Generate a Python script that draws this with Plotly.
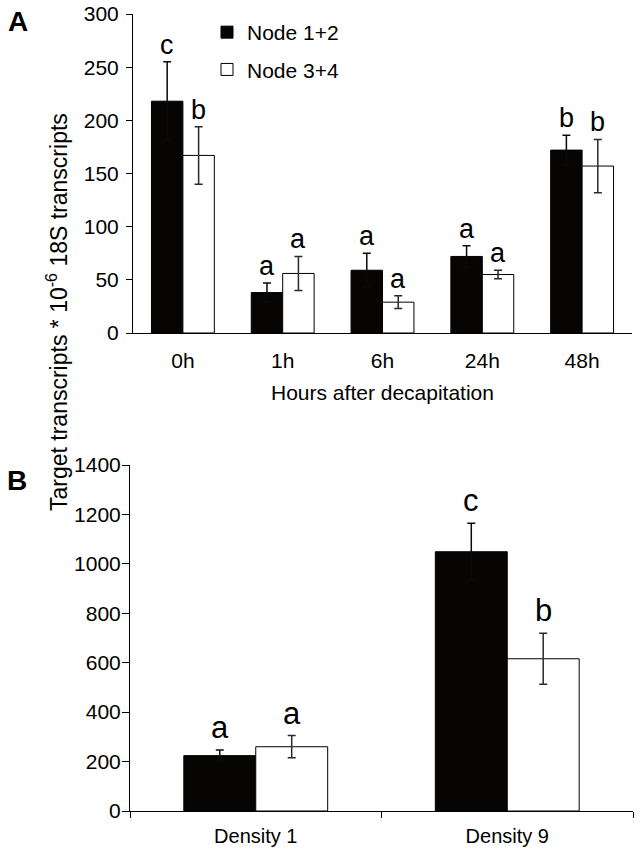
import plotly.graph_objects as go

# ---------------- data ----------------
hours = ["0h", "1h", "6h", "24h", "48h"]
a_node12 = [218, 38, 59, 72, 172]
a_node12_err = [37, 9, 16, 10, 14]
a_node34 = [167, 56, 29, 55, 157]
a_node34_err = [27, 16, 6, 4, 25]
a_letters12 = ["c", "a", "a", "a", "b"]
a_letters34 = ["b", "a", "a", "a", "b"]

density = ["Density 1", "Density 9"]
b_node12 = [224, 1049]
b_node12_err = [23, 115]
b_node34 = [260, 616]
b_node34_err = [45, 103]
b_letters12 = ["a", "c"]
b_letters34 = ["a", "b"]

series_names = ["Node 1+2", "Node 3+4"]
y_ticks_a = [0, 50, 100, 150, 200, 250, 300]
y_ticks_b = [0, 200, 400, 600, 800, 1000, 1200, 1400]

# ---------------- style ----------------
W, H = 641, 851
FONT = "Liberation Sans, Arial, Helvetica, sans-serif"
BLACK = "#070404"
ERR_DARK = "#0a0a0a"
ERR = "#2a2a2a"
bw_a = 0.315   # bar width (category units) panel A
bw_b = 0.286   # bar width panel B

def px_x(p):
    return p / W

def px_y(p):
    return 1 - p / H

fig = go.Figure()

def add_pair(xcats, v12, e12, v34, e34, bw, xa, ya, showlegend):
    fig.add_trace(go.Bar(
        x=xcats, y=v12, name=series_names[0], width=bw, offset=-bw,
        marker=dict(color=BLACK, line=dict(color="black", width=1)),
        error_y=dict(type="data", array=e12, visible=True, color=ERR_DARK,
                     thickness=1.5, width=4),
        xaxis=xa, yaxis=ya, showlegend=showlegend, legendgroup="g1"))
    fig.add_trace(go.Bar(
        x=xcats, y=v34, name=series_names[1], width=bw, offset=0,
        marker=dict(color="white", line=dict(color="black", width=1)),
        error_y=dict(type="data", array=e34, visible=True, color=ERR,
                     thickness=1.5, width=4),
        xaxis=xa, yaxis=ya, showlegend=showlegend, legendgroup="g2"))

add_pair(hours, a_node12, a_node12_err, a_node34, a_node34_err, bw_a, "x", "y", True)
add_pair(density, b_node12, b_node12_err, b_node34, b_node34_err, bw_b, "x2", "y2", False)

annotations = []

def add_letters(letters, vals, errs, bw, offset, xref, yref, size, shift):
    for i, (t, v, e) in enumerate(zip(letters, vals, errs)):
        annotations.append(dict(
            x=i + offset + bw / 2, y=v + e, xref=xref, yref=yref, text=t,
            showarrow=False, yanchor="bottom", yshift=shift,
            font=dict(size=size, color="black", family=FONT)))

add_letters(a_letters12, a_node12, a_node12_err, bw_a, -bw_a, "x", "y", 27, 0)
add_letters(a_letters34, a_node34, a_node34_err, bw_a, 0, "x", "y", 27, 0)
add_letters(b_letters12, b_node12, b_node12_err, bw_b, -bw_b, "x2", "y2", 31, 3)
add_letters(b_letters34, b_node34, b_node34_err, bw_b, 0, "x2", "y2", 31, 3)

# panel labels
annotations.append(dict(x=px_x(18), y=px_y(22), xref="paper", yref="paper", text="<b>A</b>",
                        xanchor="center", yanchor="middle",
                        showarrow=False, font=dict(size=28, color="black", family=FONT)))
annotations.append(dict(x=px_x(17), y=px_y(480), xref="paper", yref="paper", text="<b>B</b>",
                        xanchor="center", yanchor="middle",
                        showarrow=False, font=dict(size=28, color="black", family=FONT)))
# shared y title
annotations.append(dict(x=px_x(57), y=px_y(312), xref="paper", yref="paper",
                        xanchor="center", yanchor="middle",
                        text="Target transcripts * 10<sup>-6</sup> 18S transcripts",
                        textangle=-90, showarrow=False,
                        font=dict(size=23, color="black", family=FONT)))

axis_common = dict(showline=True, linecolor="black", linewidth=1, showgrid=False,
                   zeroline=False, automargin=False, ticklabeloverflow="allow",
                   tickfont=dict(size=21, color="black", family=FONT))

fig.update_layout(
    template="none",
    width=W, height=H,
    margin=dict(l=0, r=0, t=0, b=0, pad=0, autoexpand=False),
    paper_bgcolor="white", plot_bgcolor="white",
    barmode="overlay",
    font=dict(family=FONT, color="black"),
    annotations=annotations,
    showlegend=True,
    legend=dict(x=px_x(207), y=px_y(12), xanchor="left", yanchor="top",
                font=dict(size=21, color="black", family=FONT),
                bgcolor="rgba(0,0,0,0)", borderwidth=0, tracegroupgap=7),
    xaxis=dict(axis_common, domain=[px_x(133), px_x(632)], anchor="y",
               ticks="", range=[-0.5, 4.5], ticklabelstandoff=9,
               title=dict(text="Hours after decapitation", standoff=14,
                          font=dict(size=21, color="black", family=FONT))),
    yaxis=dict(axis_common, domain=[px_y(333), px_y(14)], anchor="x",
               range=[0, 300], tickvals=y_ticks_a, ticks="outside", ticklen=6,
               tickcolor="black", ticklabelstandoff=3),
    xaxis2=dict(axis_common, domain=[px_x(130), px_x(633)], anchor="y2",
                range=[-0.5, 1.5], ticks="outside", ticklen=6, tickcolor="black",
                tickson="boundaries", ticklabelstandoff=7,
                tickfont=dict(size=20, color="black", family=FONT)),
    yaxis2=dict(axis_common, domain=[px_y(811), px_y(465)], anchor="x2",
                range=[0, 1400], tickvals=y_ticks_b, ticks="outside", ticklen=7,
                tickcolor="black", ticklabelstandoff=-3),
)

fig.write_html("out.html", config={"displayModeBar": False},
               post_script="document.body.style.margin='0px';document.body.style.overflow='hidden';")
